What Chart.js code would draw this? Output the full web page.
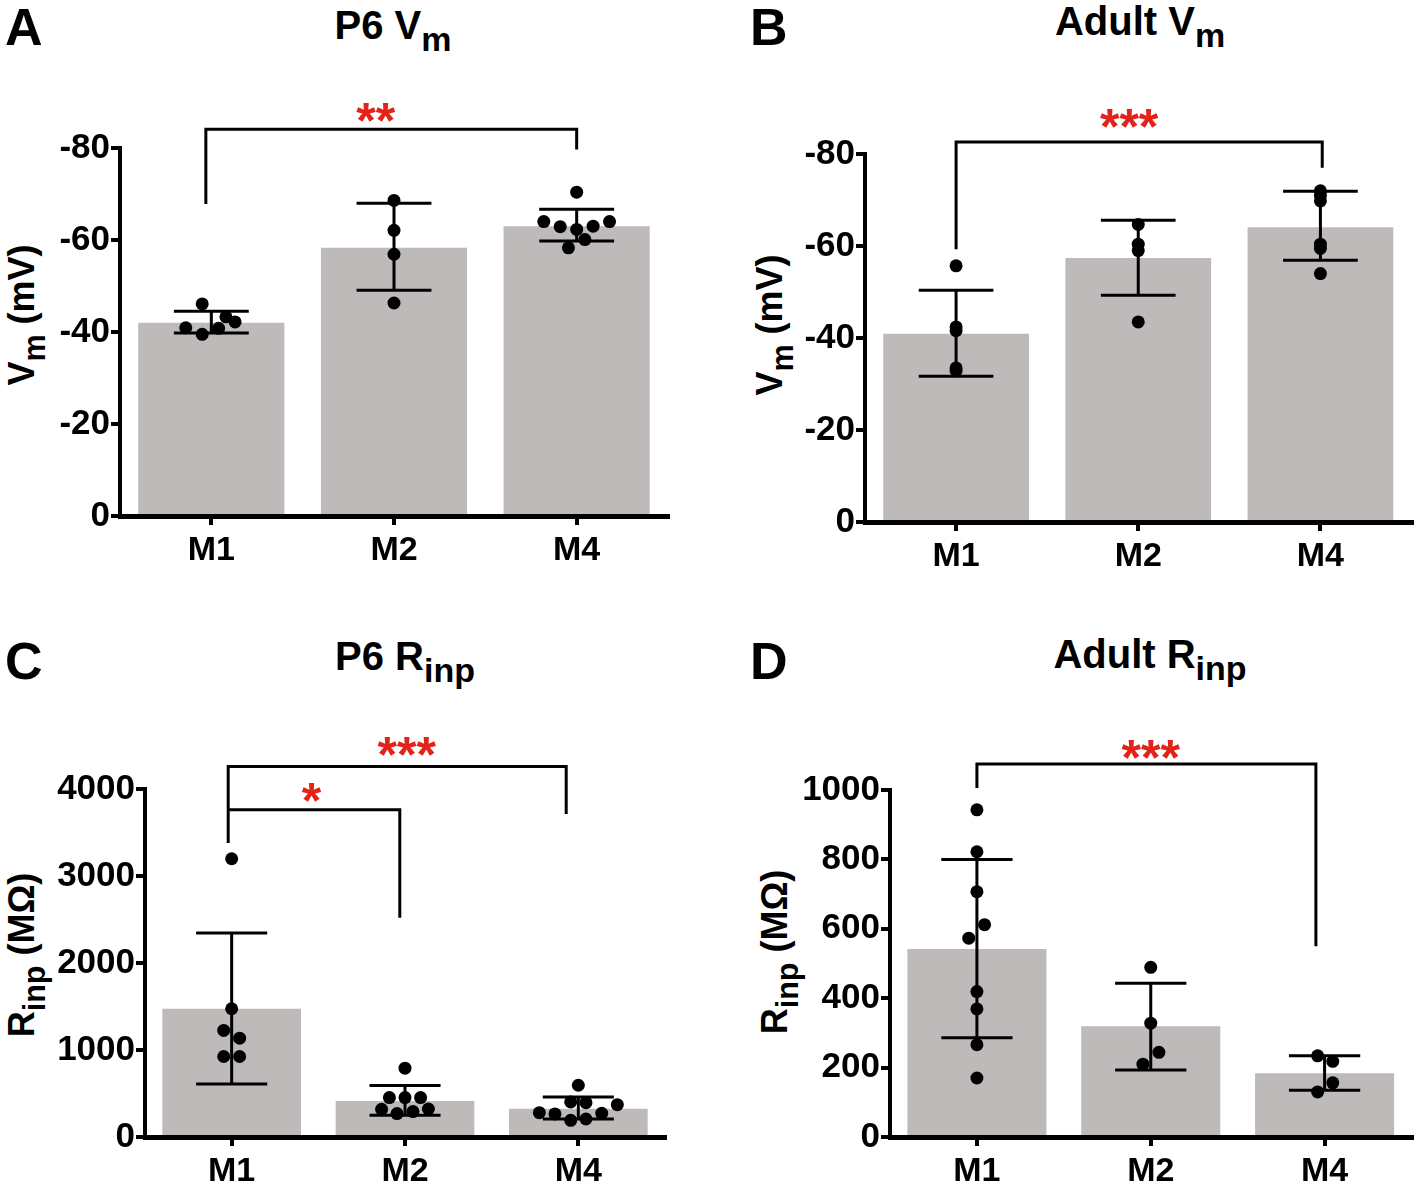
<!DOCTYPE html>
<html>
<head>
<meta charset="utf-8">
<script src="https://cdn.jsdelivr.net/npm/chart.js@4.4.1/dist/chart.umd.min.js"></script>
<style>
    body { margin: 0; background: #fff; }
    #page { position: relative; width: 1418px; height: 1184px; overflow: hidden;
            font-family: 'Liberation Sans', Arial, sans-serif; font-weight: bold; color: #000; }
    .panel { position: absolute; }
    .txt { position: absolute; white-space: nowrap; line-height: 1; }
    .letter { font-size: 52px; }
    .title { font-size: 40px; transform: translateX(-50%); }
    .ytitle { font-size: 36px; transform: translate(-50%, -50%) rotate(-90deg); }
    sub { font-size: 0.85em; vertical-align: -0.35em; line-height: 0; }
</style>
</head>
<body>
<div id="page">
    <div class="txt letter" style="left:5px; top:1px">A</div>
    <div class="txt letter" style="left:750px; top:1px">B</div>
    <div class="txt letter" style="left:5px; top:635px">C</div>
    <div class="txt letter" style="left:750px; top:635px">D</div>

    <div class="txt title" style="left:393px; top:5px">P6 V<sub>m</sub></div>
    <div class="txt title" style="left:1140px; top:1px">Adult V<sub>m</sub></div>
    <div class="txt title" style="left:405px; top:636px">P6 R<sub>inp</sub></div>
    <div class="txt title" style="left:1150px; top:634px">Adult R<sub>inp</sub></div>

    <div class="txt ytitle" style="left:22px; top:315px">V<sub>m</sub> (mV)</div>
    <div class="txt ytitle" style="left:770px; top:325px">V<sub>m</sub> (mV)</div>
    <div class="txt ytitle" style="left:22px; top:955px">R<sub>inp</sub> (MΩ)</div>
    <div class="txt ytitle" style="left:775px; top:952px">R<sub>inp</sub> (MΩ)</div>

    <div class="panel" style="left:0; top:0; width:700px; height:590px"><canvas id="chartA"></canvas></div>
    <div class="panel" style="left:709px; top:0; width:709px; height:590px"><canvas id="chartB"></canvas></div>
    <div class="panel" style="left:0; top:600px; width:709px; height:584px"><canvas id="chartC"></canvas></div>
    <div class="panel" style="left:709px; top:600px; width:709px; height:584px"><canvas id="chartD"></canvas></div>
</div>

<script>
const groups = ['M1', 'M2', 'M4'];

// A - P6 Vm (mV)
const p6VmMean = [-42.0, -58.3, -63.0];
const p6VmErrLow = [-39.8, -49.1, -59.8];
const p6VmErrHigh = [-44.5, -68.0, -66.7];
const p6VmCells = [
    [-46.1, -40.9, -39.5, -40.8, -43.3, -42.2],
    [-68.6, -62.1, -56.9, -46.3],
    [-70.4, -64.0, -62.9, -62.3, -63.0, -64.0, -60.1, -58.3]
];
const p6VmJitter = [
    [-0.05, -0.14, -0.05, 0.04, 0.08, 0.13],
    [0, 0, 0, 0],
    [0, -0.18, -0.09, 0, 0.09, 0.18, 0.045, -0.045]
];
const p6VmTicks = [0, -20, -40, -60, -80];
const p6VmSig = [
    { from: -0.03, to: 2, top: -84.1, footFrom: -67.8, footTo: -79.7, label: '**', labelX: 0.9, labelY: -87.5 }
];

// B - Adult Vm (mV)
const adultVmMean = [-40.9, -57.4, -64.1];
const adultVmErrLow = [-31.7, -49.3, -56.9];
const adultVmErrHigh = [-50.4, -65.6, -71.9];
const adultVmCells = [
    [-55.7, -42.4, -41.6, -33.5, -32.9],
    [-64.7, -60.4, -59.0, -43.5],
    [-72.0, -71.0, -69.8, -60.4, -59.5, -54.0]
];
const adultVmJitter = [
    [0, 0, 0, 0, 0],
    [0, 0, 0, 0],
    [0, 0, 0, 0, 0, 0]
];
const adultVmTicks = [0, -20, -40, -60, -80];
const adultVmSig = [
    { from: 0, to: 2.01, top: -82.6, footFrom: -59.3, footTo: -77.0, label: '***', labelX: 0.95, labelY: -87.4 }
];

// C - P6 Rinp (MOhm)
const p6RinpMean = [1474, 415, 326];
const p6RinpErrLow = [610, 250, 207];
const p6RinpErrHigh = [2345, 591, 461];
const p6RinpCells = [
    [3198, 1474, 1225, 1136, 925, 925],
    [791, 453, 453, 453, 319, 269, 292, 322],
    [595, 403, 395, 372, 280, 265, 192, 207, 273]
];
const p6RinpJitter = [
    [0, 0, -0.046, 0.046, -0.046, 0.046],
    [0, -0.09, 0, 0.09, -0.135, -0.046, 0.046, 0.135],
    [0, -0.044, 0.044, 0.225, -0.225, -0.135, -0.044, 0.044, 0.135]
];
const p6RinpTicks = [0, 1000, 2000, 3000, 4000];
const p6RinpSig = [
    { from: -0.02, to: 1.93, top: 4260, footFrom: 3378, footTo: 3712, label: '***', labelX: 1.01, labelY: 4472 },
    { from: -0.02, to: 0.97, top: 3762, footFrom: 3378, footTo: 2521, label: '*', labelX: 0.46, labelY: 3950 }
];

// D - Adult Rinp (MOhm)
const adultRinpMean = [542, 319, 184];
const adultRinpErrLow = [286, 193, 135];
const adultRinpErrHigh = [800, 443, 234];
const adultRinpCells = [
    [943, 822, 707, 612, 573, 419, 369, 266, 170],
    [489, 328, 244, 210],
    [234, 218, 156, 130]
];
const adultRinpJitter = [
    [0, 0, 0, 0.044, -0.047, 0, 0, 0, 0],
    [0, 0, 0.047, -0.045],
    [-0.04, 0.047, 0.047, -0.04]
];
const adultRinpTicks = [0, 200, 400, 600, 800, 1000];
const adultRinpSig = [
    { from: 0, to: 1.95, top: 1075, footFrom: 1006, footTo: 550, label: '***', labelX: 1.0, labelY: 1115 }
];

const BAR_GREY = '#bdbab9';
const STAR_RED = '#e2231a';
const CAP = 0.205;
const X_TICK_FONT = { size: 34, weight: 'bold' };
const Y_TICK_FONT = { size: 35, weight: 'bold' };

Chart.defaults.font.family = "'Liberation Sans', Arial, sans-serif";
Chart.defaults.color = '#000';

function starPlugin(sig) {
    return {
        id: 'stars',
        afterDatasetsDraw(chart) {
            const x = chart.scales.x;
            const y = chart.scales.y;
            const c = chart.ctx;
            const size = 50;
            c.save();
            c.fillStyle = STAR_RED;
            c.font = 'bold ' + size + "px 'Liberation Sans', Arial, sans-serif";
            c.textAlign = 'center';
            c.textBaseline = 'alphabetic';
            sig.forEach(s => {
                c.fillText(s.label, x.getPixelForValue(s.labelX), y.getPixelForValue(s.labelY) + 0.49 * size);
            });
            c.restore();
        }
    };
}

function drawPanel(canvasId, p) {
    const bars = p.mean.map((m, i) => ({ x: i, y: m }));

    const points = [];
    p.cells.forEach((vals, i) => {
        vals.forEach((v, k) => points.push({ x: i + p.jitter[i][k], y: v }));
    });

    const errData = [];
    p.mean.forEach((m, i) => {
        const lo = p.errLow[i];
        const hi = p.errHigh[i];
        errData.push(
            { x: i - CAP, y: hi }, { x: i + CAP, y: hi }, { x: i, y: null },
            { x: i, y: hi }, { x: i, y: lo }, { x: i, y: null },
            { x: i - CAP, y: lo }, { x: i + CAP, y: lo }, { x: i, y: null }
        );
    });

    const sigData = [];
    p.sig.forEach(s => {
        sigData.push(
            { x: s.from, y: s.footFrom }, { x: s.from, y: s.top },
            { x: s.to, y: s.top }, { x: s.to, y: s.footTo }, { x: s.to, y: null }
        );
    });

    const ctx = document.getElementById(canvasId).getContext('2d');
    new Chart(ctx, {
        type: 'bar',
        data: {
            datasets: [
                {
                    type: 'bar', data: bars, backgroundColor: BAR_GREY, grouped: false,
                    barPercentage: 0.8, categoryPercentage: 1, order: 4
                },
                {
                    type: 'line', data: errData,
                    borderColor: '#000', borderWidth: 3, pointRadius: 0, spanGaps: false,
                    fill: false, clip: false, order: 3
                },
                {
                    type: 'line', data: sigData,
                    borderColor: '#000', borderWidth: 3, borderJoinStyle: 'miter', pointRadius: 0,
                    spanGaps: false, fill: false, clip: false, order: 2
                },
                {
                    type: 'scatter', data: points,
                    pointRadius: 6.5, backgroundColor: '#000', borderWidth: 0, clip: false, order: 1
                }
            ]
        },
        options: {
            responsive: true,
            maintainAspectRatio: false,
            animation: false,
            devicePixelRatio: 1,
            events: [],
            layout: { padding: { top: p.padTop, right: p.padRight, left: 0, bottom: 0 } },
            plugins: { legend: { display: false }, tooltip: { enabled: false } },
            scales: {
                x: {
                    type: 'linear',
                    offset: false,
                    min: -0.5,
                    max: groups.length - 0.5,
                    afterBuildTicks: axis => { axis.ticks = groups.map((g, i) => ({ value: i })); },
                    afterFit: axis => { axis.height = p.xHeight; },
                    border: { display: true, color: '#000', width: 5 },
                    grid: { offset: false, drawOnChartArea: false, drawTicks: true, tickLength: 9, color: '#000', lineWidth: 4 },
                    ticks: { color: '#000', padding: 5, font: X_TICK_FONT, maxRotation: 0, callback: v => groups[v] }
                },
                y: {
                    type: 'linear',
                    min: Math.min(...p.ticks),
                    max: Math.max(...p.ticks),
                    reverse: p.reverse,
                    afterBuildTicks: axis => { axis.ticks = p.ticks.map(v => ({ value: v })); },
                    afterFit: axis => { axis.width = p.yWidth; },
                    border: { display: true, color: '#000', width: 4 },
                    grid: { drawOnChartArea: false, drawTicks: true, tickLength: 9, color: '#000', lineWidth: 4 },
                    ticks: { color: '#000', padding: 1, font: Y_TICK_FONT, callback: v => String(v) }
                }
            }
        },
        plugins: [starPlugin(p.sig)]
    });
}

drawPanel('chartA', {
    mean: p6VmMean, errLow: p6VmErrLow, errHigh: p6VmErrHigh, cells: p6VmCells, jitter: p6VmJitter,
    ticks: p6VmTicks, sig: p6VmSig, reverse: true,
    yWidth: 120, xHeight: 74, padTop: 148, padRight: 32
});
drawPanel('chartB', {
    mean: adultVmMean, errLow: adultVmErrLow, errHigh: adultVmErrHigh, cells: adultVmCells, jitter: adultVmJitter,
    ticks: adultVmTicks, sig: adultVmSig, reverse: true,
    yWidth: 156, xHeight: 68, padTop: 154, padRight: 3
});
drawPanel('chartC', {
    mean: p6RinpMean, errLow: p6RinpErrLow, errHigh: p6RinpErrHigh, cells: p6RinpCells, jitter: p6RinpJitter,
    ticks: p6RinpTicks, sig: p6RinpSig, reverse: false,
    yWidth: 145, xHeight: 47, padTop: 189, padRight: 44
});
drawPanel('chartD', {
    mean: adultRinpMean, errLow: adultRinpErrLow, errHigh: adultRinpErrHigh, cells: adultRinpCells, jitter: adultRinpJitter,
    ticks: adultRinpTicks, sig: adultRinpSig, reverse: false,
    yWidth: 181, xHeight: 47, padTop: 190, padRight: 3
});
</script>
</body>
</html>
